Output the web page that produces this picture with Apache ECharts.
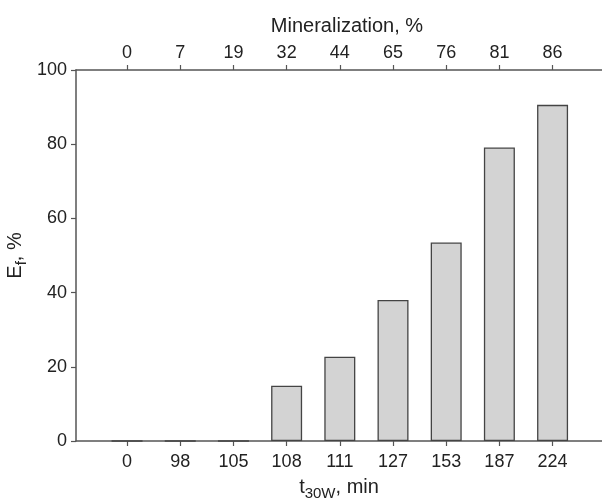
<!DOCTYPE html>
<html>
<head>
<meta charset="utf-8">
<script src="https://cdn.jsdelivr.net/npm/echarts@6/dist/echarts.min.js"></script>
<style>html,body{margin:0;padding:0;background:#fff;}#c{width:602px;height:498px;}</style>
</head>
<body>
<div id="c"></div>
<script>
var timeLabels = ['0', '98', '105', '108', '111', '127', '153', '187', '224'];
var mineralLabels = ['0', '7', '19', '32', '44', '65', '76', '81', '86'];
var efValues = [0, 0, 0, 14.9, 22.7, 38.0, 53.5, 79.1, 90.6];
var yTicks = [0, 20, 40, 60, 80, 100];

var positions = timeLabels.map(function (_, i) { return i; });
var barData = positions.map(function (p, i) { return [p, efValues[i]]; });

var axisColor = '#555';
var textColor = '#222';
var font = 'Liberation Sans, Arial, sans-serif';

var chart = echarts.init(document.getElementById('c'), null, {renderer: 'canvas'});
chart.setOption({
  animation: false,
  backgroundColor: '#fff',
  grid: {left: 76, right: -16, top: 70, bottom: 57, containLabel: false, outerBoundsMode: 'none'},
  xAxis: [{
    type: 'value', position: 'bottom', min: -0.96, max: 9.23,
    axisLine: {show: true, onZero: false, lineStyle: {color: axisColor, width: 1.5}},
    axisTick: {show: true, inside: false, length: 5, customValues: positions, lineStyle: {color: axisColor, width: 1.2}},
    axisLabel: {customValues: positions, color: textColor, fontSize: 18, fontFamily: font, margin: 12,
      formatter: function (v) { return timeLabels[Math.round(v)]; }},
    splitLine: {show: false},
    name: '{a|t}{s|30W}{a|, min}', nameLocation: 'middle', nameGap: 33,
    nameTextStyle: {padding: [0, 16, 0, 0], rich: {
      a: {fontSize: 20, color: textColor, fontFamily: font},
      s: {fontSize: 15, color: textColor, fontFamily: font, padding: [12, 0, 0, 0]}
    }}
  }, {
    type: 'value', position: 'top', min: -0.96, max: 9.23,
    axisLine: {show: true, onZero: false, lineStyle: {color: axisColor, width: 1.5}},
    axisTick: {show: true, inside: false, length: 5, customValues: positions, lineStyle: {color: axisColor, width: 1.2}},
    axisLabel: {customValues: positions, color: textColor, fontSize: 18, fontFamily: font, margin: 8,
      formatter: function (v) { return mineralLabels[Math.round(v)]; }},
    splitLine: {show: false},
    name: 'Mineralization, %', nameLocation: 'middle', nameGap: 34,
    nameTextStyle: {fontSize: 20, color: textColor, fontFamily: font}
  }],
  yAxis: {
    type: 'value', min: 0, max: 100, interval: 20,
    axisLine: {show: true, onZero: false, lineStyle: {color: axisColor, width: 1.5}},
    axisTick: {show: true, inside: false, length: 5, lineStyle: {color: axisColor, width: 1.2}},
    axisLabel: {color: textColor, fontSize: 18, fontFamily: font, margin: 9},
    splitLine: {show: false},
    name: '{a|E}{s|f}{a|, %}', nameLocation: 'middle', nameGap: 47, nameMoveOverlap: false,
    nameTextStyle: {rich: {
      a: {fontSize: 20, color: textColor, fontFamily: font},
      s: {fontSize: 15, color: textColor, fontFamily: font, padding: [12, 0, 0, 0]}
    }}
  },
  series: [{
    type: 'bar', xAxisIndex: 0, yAxisIndex: 0,
    data: barData, barWidth: 31,
    itemStyle: {color: '#d3d3d3', borderColor: '#444', borderWidth: 1.3}
  }]
});
</script>
</body>
</html>
